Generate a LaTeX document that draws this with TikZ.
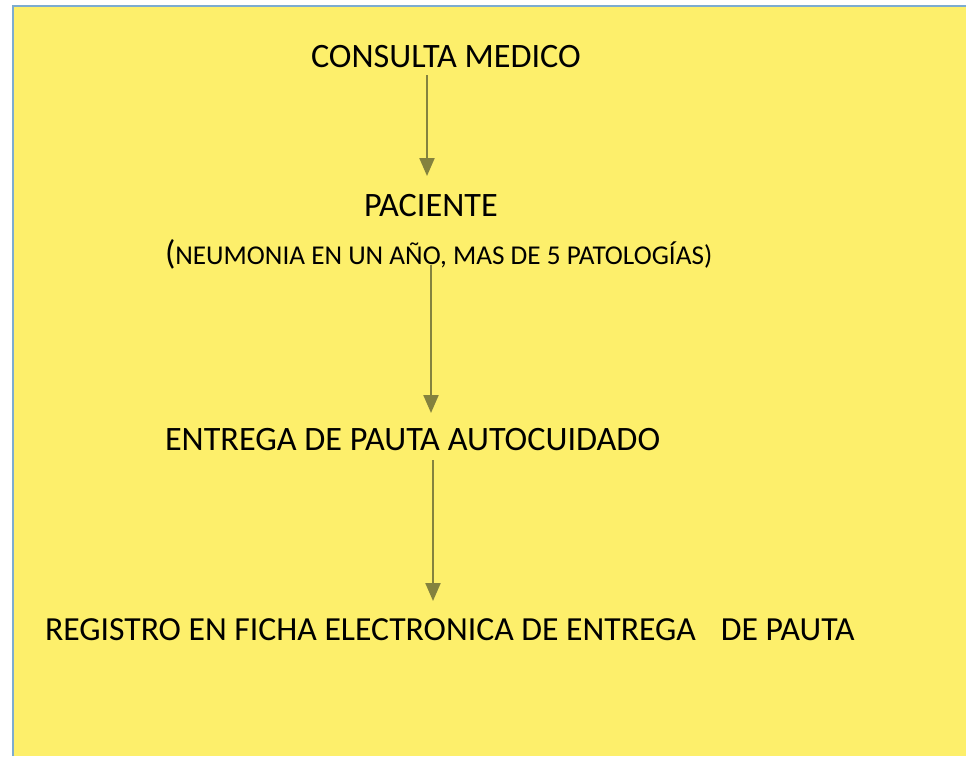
\documentclass[tikz,border=0pt]{standalone}
\usepackage{fontspec}
\setmainfont{Carlito}
\usetikzlibrary{arrows.meta}
\definecolor{bgyellow}{RGB}{253,239,107}
\definecolor{frameblue}{RGB}{125,172,208}
\definecolor{arrowolive}{RGB}{132,130,62}
\tikzset{
  lbl/.style={inner sep=0pt, outer sep=0pt, anchor=base west, text=black, font=\fontsize{34.2}{38}\selectfont},
  flow/.style={draw=arrowolive, line width=2.2pt, -{Triangle[length=18pt,width=15pt]}}
}
\begin{document}
\begin{tikzpicture}[x=1pt,y=-1pt]
\useasboundingbox (0,0) rectangle (966,756);
\fill[white] (0,0) rectangle (966,756);
\fill[bgyellow] (12,5) rectangle (966,756);
\draw[frameblue, line width=2pt] (13,756) -- (13,6) -- (966,6);

\node[lbl] (consulta) at (311,67) {CONSULTA MEDICO};
\node[lbl] (paciente) at (364,216.5) {PACIENTE};
\node[lbl] (detalle) at (165,264) {(\fontsize{27.2}{30}\selectfont NEUMONIA EN UN AÑO, MAS DE 5 PATOLOGÍAS)};
\node[lbl] (entrega) at (165,450.5) {ENTREGA DE PAUTA AUTOCUIDADO};
\node[lbl, font=\fontsize{33.7}{38}\selectfont] (registro) at (45,640.5) {REGISTRO EN FICHA ELECTRONICA DE ENTREGA\hspace{25pt}DE PAUTA};

\coordinate (a1s) at (427,75);
\coordinate (a1e) at (427,176);
\coordinate (a2s) at (431,265);
\coordinate (a2e) at (431,413);
\coordinate (a3s) at (433,460);
\coordinate (a3e) at (433,601);
\draw[flow] (a1s) -- (a1e);
\draw[flow] (a2s) -- (a2e);
\draw[flow] (a3s) -- (a3e);
\end{tikzpicture}
\end{document}
